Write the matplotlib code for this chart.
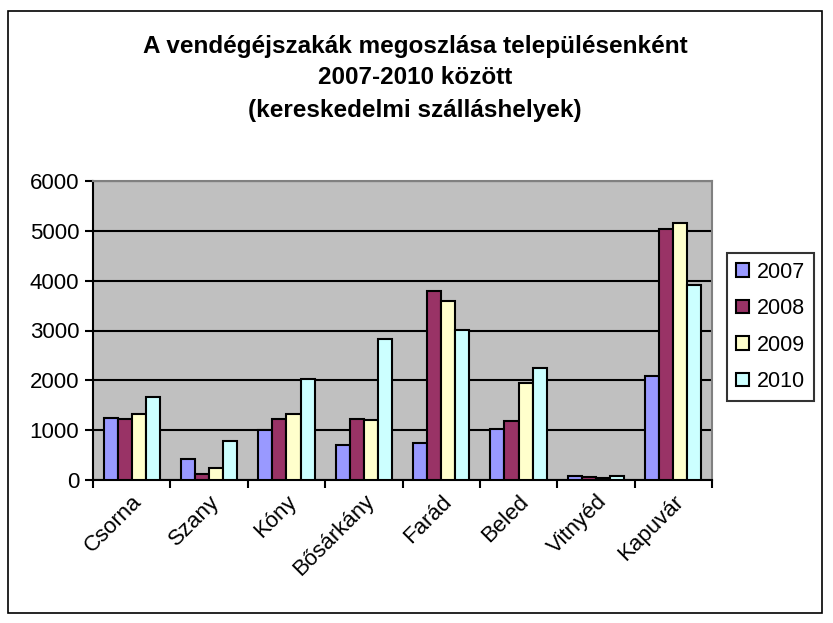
import numpy as np
import matplotlib
matplotlib.use("Agg")
import matplotlib.pyplot as plt
from matplotlib.patches import Rectangle

plt.rcParams['font.family'] = ['Liberation Sans', 'DejaVu Sans']

# adatok
telepulesek = ['Csorna', 'Szany', 'Kóny', 'Bősárkány', 'Farád', 'Beled', 'Vitnyéd', 'Kapuvár']
evek = ['2007', '2008', '2009', '2010']
v2007 = [1250, 420, 1000, 700, 750, 1030, 90, 2080]
v2008 = [1220, 130, 1220, 1220, 3790, 1190, 70, 5030]
v2009 = [1320, 240, 1320, 1200, 3600, 1940, 40, 5150]
v2010 = [1660, 780, 2030, 2830, 3020, 2240, 90, 3920]
szinek = ['#9999FF', '#993366', '#FFFFCC', '#CCFFFF']

fig = plt.figure(figsize=(8.33, 6.23), dpi=100)
W, H = 833, 623
ax = fig.add_axes([93 / W, 1 - 480 / H, (712 - 93) / W, (480 - 181) / H])
ax.set_facecolor('#C0C0C0')

# kulso keret
fig.patches.append(Rectangle((8 / W, 10 / H), (822 - 8) / W, (612 - 10) / H,
                             transform=fig.transFigure, fill=False,
                             edgecolor='black', linewidth=1.2))

x = np.arange(len(telepulesek))
w = 1 / 5.5
for i, (vals, ev) in enumerate(zip([v2007, v2008, v2009, v2010], evek)):
    ax.bar(x + (i - 1.5) * w, vals, width=w, color=szinek[i], edgecolor='black',
           linewidth=1.5, label=ev, zorder=3)

ax.set_xlim(-0.5, len(telepulesek) - 0.5)
ax.set_ylim(0, 6000)
ax.set_yticks(range(0, 6001, 1000))
ax.yaxis.grid(True, color='black', linewidth=1.5, zorder=1)
ax.set_axisbelow(True)

ax.set_xticks(np.arange(-0.5, len(telepulesek)), minor=False)
ax.set_xticklabels([])
ax.set_xticks(x, minor=True)
ax.set_xticklabels(telepulesek, minor=True, rotation=45, ha='right',
                   rotation_mode='anchor', fontsize=16)
ax.tick_params(axis='x', which='minor', length=0, pad=8)
ax.tick_params(axis='x', which='major', length=6, width=1.5, direction='out')
ax.tick_params(axis='y', length=6, width=1.5, direction='out', labelsize=16, pad=4)

for s in ['left', 'bottom']:
    ax.spines[s].set_linewidth(1.5)
    ax.spines[s].set_color('black')
for s in ['top', 'right']:
    ax.spines[s].set_linewidth(1.5)
    ax.spines[s].set_color('#808080')

fig.text(415 / W, 1 - 78 / H,
         'A vendégéjszakák megoszlása településenként\n2007-2010 között\n(kereskedelmi szálláshelyek)',
         ha='center', va='center', fontsize=17.5, fontweight='bold', linespacing=1.5)

leg = ax.legend(loc='center left', bbox_to_anchor=(727 / W, 1 - 327 / H),
                bbox_transform=fig.transFigure, frameon=True, fancybox=False,
                fontsize=15.5, handlelength=0.6, handleheight=0.6, handletextpad=0.4,
                labelspacing=0.72, borderpad=0.4, borderaxespad=0)
leg.get_frame().set_edgecolor('black')
leg.get_frame().set_linewidth(1.5)

fig.savefig('out.png', dpi=100, facecolor='white')
